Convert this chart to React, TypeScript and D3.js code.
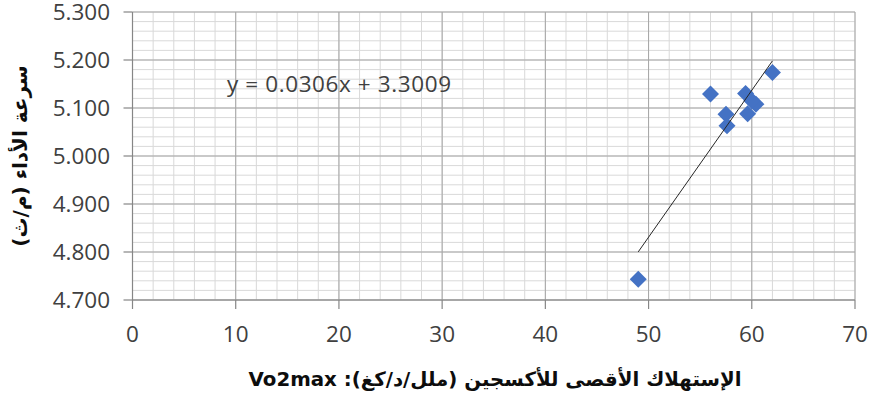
import React from "react";
import * as d3 from "d3";

const vo2max = [49, 56, 62, 59.4, 57.5, 57.6, 60.4, 59.6, 60.0];
const speed = [4.743, 5.129, 5.174, 5.13, 5.087, 5.063, 5.108, 5.088, 5.115];
const xTicks = [0, 10, 20, 30, 40, 50, 60, 70];
const yTicks = [4.7, 4.8, 4.9, 5.0, 5.1, 5.2, 5.3];
const slope = 0.0306;
const intercept = 3.3009;
const equation = "y = 0.0306x + 3.3009";
const xTitle = "الإستهلاك الأقصى للأكسجين (ملل/د/كغ): Vo2max";
const yTitle = "سرعة الأداء (م/ث)";

const W = 872, H = 396;
const left = 132.5, right = 855, top = 12, bottom = 300;

export default function App() {
  const x = d3.scaleLinear().domain([0, 70]).range([left, right]);
  const y = d3.scaleLinear().domain([4.7, 5.3]).range([bottom, top]);
  const xMinor = d3.range(0, 70.001, 2);
  const yMinor = d3.range(0, 31).map((i) => 4.7 + i * 0.02);
  const xMin = d3.min(vo2max) as number;
  const xMax = d3.max(vo2max) as number;
  const tickFont = "'Open Sans', 'Liberation Sans', sans-serif";
  const titleFont = "'DejaVu Sans', sans-serif";
  return (
    <svg width={W} height={H} style={{ position: "absolute", left: 0, top: 0, background: "#fff" }}>
      <g>
        {xMinor.map((v, i) => (
          <line key={"xm" + i} x1={x(v)} x2={x(v)} y1={top} y2={bottom} stroke="#d9d9d9" strokeWidth={1} />
        ))}
        {yMinor.map((v, i) => (
          <line key={"ym" + i} x1={left} x2={right} y1={y(v)} y2={y(v)} stroke="#d9d9d9" strokeWidth={1} />
        ))}
        {xTicks.map((v, i) => (
          <line key={"xM" + i} x1={x(v)} x2={x(v)} y1={top} y2={bottom} stroke="#a6a6a6" strokeWidth={1} />
        ))}
        {yTicks.map((v, i) => (
          <line key={"yM" + i} x1={left} x2={right} y1={y(v)} y2={y(v)} stroke="#a6a6a6" strokeWidth={1} />
        ))}
      </g>
      <line x1={left} x2={left} y1={top} y2={bottom} stroke="#868686" strokeWidth={1.2} />
      <line x1={left} x2={right} y1={bottom} y2={bottom} stroke="#868686" strokeWidth={1.2} />
      {yTicks.map((v, i) => (
        <line key={"yt" + i} x1={left - 9} x2={left} y1={y(v)} y2={y(v)} stroke="#868686" strokeWidth={1.2} />
      ))}
      {xTicks.map((v, i) => (
        <line key={"xt" + i} x1={x(v)} x2={x(v)} y1={bottom} y2={bottom + 9} stroke="#868686" strokeWidth={1.2} />
      ))}
      {yTicks.map((v, i) => (
        <text key={"yl" + i} x={110} y={y(v)} dy="0.36em" textAnchor="end" fontFamily={tickFont} fontSize={22.5} fill="#404040">
          {v.toFixed(3)}
        </text>
      ))}
      {xTicks.map((v, i) => (
        <text key={"xl" + i} x={x(v)} y={334} dy="0.36em" textAnchor="middle" fontFamily={tickFont} fontSize={22.5} fill="#404040">
          {v}
        </text>
      ))}
      {vo2max.map((v, i) => (
        <path key={"p" + i} transform={`translate(${x(v)},${y(speed[i])})`} d="M0,-8.5L8.5,0L0,8.5L-8.5,0Z" fill="#4472c4" />
      ))}
      <line x1={x(xMin)} y1={y(slope * xMin + intercept)} x2={x(xMax)} y2={y(slope * xMax + intercept)} stroke="#262626" strokeWidth={1} />
      <text x={227} y={84} dy="0.36em" fontFamily={tickFont} fontSize={22.5} fill="#404040" textLength={224} lengthAdjust="spacing">
        {equation}
      </text>
      <text x={495} y={379} dy="0.36em" textAnchor="middle" direction="rtl" fontFamily={titleFont} fontWeight="bold" fontSize={19.8} fill="#0d0d0d">
        {xTitle}
      </text>
      <text transform={`translate(20,156) rotate(-90)`} dy="0.36em" textAnchor="middle" direction="rtl" fontFamily={titleFont} fontWeight="bold" fontSize={20} fill="#0d0d0d">
        {yTitle}
      </text>
    </svg>
  );
}
